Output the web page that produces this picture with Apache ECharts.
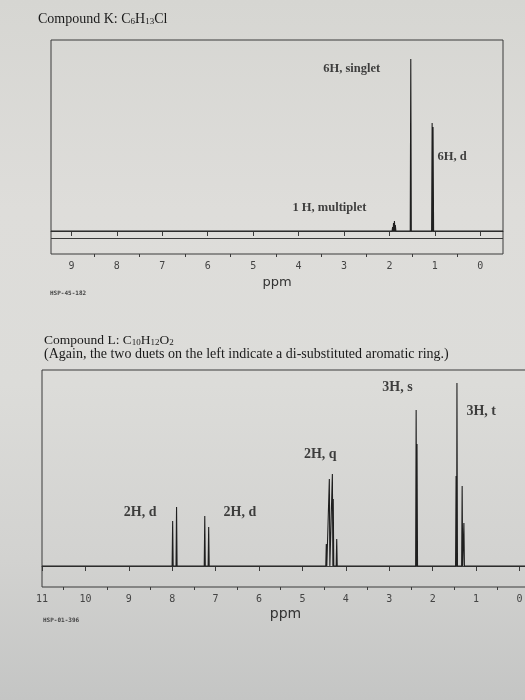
<!DOCTYPE html>
<html>
<head>
<meta charset="utf-8">
<script src="https://cdn.jsdelivr.net/npm/echarts@6/dist/echarts.min.js"></script>
<style>
  html, body { margin: 0; padding: 0; }
  #main {
    width: 525px; height: 700px;
    background: linear-gradient(180deg, #d6d6d2 0%, #dedddA 30%, #dcdcd9 55%, #d2d2d0 80%, #c4c5c4 100%);
  }
</style>
</head>
<body>
<div id="main"></div>
<script>
  // ---- Compound K (top spectrum) ----
  var kTicks = [0, 1, 2, 3, 4, 5, 6, 7, 8, 9];
  var kMinorTicks = [0.5, 1.5, 2.5, 3.5, 4.5, 5.5, 6.5, 7.5, 8.5];
  var kPeakPpm = [1.93, 1.91, 1.89, 1.87, 1.53, 1.06, 1.04];
  var kPeakHeight = [4, 8, 10, 6, 172, 108, 104];
  var kNoteText = ['6H, singlet', '6H, d', '1 H, multiplet'];
  var kNotePpm = [2.83, 0.62, 3.32];
  var kNoteHeight = [162, 74, 23];

  // ---- Compound L (bottom spectrum) ----
  var lTicks = [0, 1, 2, 3, 4, 5, 6, 7, 8, 9, 10, 11];
  var lMinorTicks = [0.5, 1.5, 2.5, 3.5, 4.5, 5.5, 6.5, 7.5, 8.5, 9.5, 10.5];
  var lPeakPpm = [7.99, 7.90, 7.25, 7.16, 4.45, 4.38, 4.31, 4.29, 4.21, 2.38, 2.36, 1.46, 1.44, 1.32, 1.28];
  var lPeakHeight = [45, 59, 50, 39, 22, 87, 92, 67, 27, 156, 122, 90, 183, 80, 43];
  var lNoteText = ['3H, s', '3H, t', '2H, q', '2H, d', '2H, d'];
  var lNotePpm = [2.81, 0.88, 4.59, 8.74, 6.44];
  var lNoteHeight = [179, 155, 112, 54, 54];

  var ink = '#1f1f1f';
  var frame = '#3a3a3a';

  // baseline with a narrow spike for every line of the spectrum
  function trace(ppm, height, lo, hi) {
    var w = 0.012;
    var idx = ppm.map(function (p, i) { return i; }).sort(function (a, b) { return ppm[b] - ppm[a]; });
    var pts = [[hi, 0]];
    idx.forEach(function (i) {
      pts.push([ppm[i] + w, 0], [ppm[i], height[i]], [ppm[i] - w, 0]);
    });
    pts.push([lo, 0]);
    return pts;
  }

  function notes(text, ppm, h) {
    return text.map(function (t, i) { return { name: t, value: [ppm[i], h[i]] }; });
  }

  function axisPair(gridIndex, min, max, major, minor) {
    var base = {
      type: 'value', gridIndex: gridIndex, min: min, max: max, inverse: true,
      position: 'bottom', splitLine: { show: false }
    };
    return [
      Object.assign({}, base, {
        name: 'ppm', nameLocation: 'middle', nameGap: gridIndex === 0 ? 22 : 20,
        nameTextStyle: { fontFamily: 'DejaVu Sans', fontSize: gridIndex === 0 ? 13 : 14, color: '#333' },
        axisLine: { lineStyle: { color: frame, width: 1 } },
        axisTick: { customValues: major, length: 5, lineStyle: { color: frame } },
        axisLabel: {
          customValues: major, margin: 7, color: '#444',
          fontFamily: 'DejaVu Sans Mono', fontSize: 10
        }
      }),
      Object.assign({}, base, {
        axisLine: { show: false },
        axisTick: { customValues: minor, length: 3, lineStyle: { color: frame } },
        axisLabel: { show: false }
      })
    ];
  }

  var noteLabel = {
    show: true, position: 'inside', formatter: '{b}', color: '#151515',
    fontFamily: 'Liberation Serif', fontWeight: 'bold'
  };

  function subRich(size) {
    return {
      n: { fontFamily: 'Liberation Serif', fontSize: size, fontWeight: 'normal', color: '#1a1a1a' },
      s: { fontFamily: 'Liberation Serif', fontSize: 9, fontWeight: 'normal', color: '#1a1a1a', verticalAlign: 'bottom' }
    };
  }
  var smallMono = { fontFamily: 'DejaVu Sans Mono', fontSize: 6, fontWeight: 'bold', color: '#444' };

  var chart = echarts.init(document.getElementById('main'));
  chart.setOption({
    backgroundColor: 'transparent',
    animation: false,
    title: [
      { left: 38, top: 12, padding: 0, text: '{n|Compound K: C}{s|6}{n|H}{s|13}{n|Cl}', textStyle: { fontWeight: 'normal', rich: subRich(14) } },
      { left: 44, top: 333, padding: 0, text: '{n|Compound L: C}{s|10}{n|H}{s|12}{n|O}{s|2}', textStyle: { fontWeight: 'normal', rich: subRich(13.5) } },
      {
        left: 44, top: 347, padding: 0, text: '(Again, the two duets on the left indicate a di-substituted aromatic ring.)',
        textStyle: { fontFamily: 'Liberation Serif', fontSize: 14, fontWeight: 'normal', color: '#1a1a1a' }
      },
      { left: 50, top: 290, padding: 0, text: 'HSP-45-182', textStyle: smallMono },
      { left: 43, top: 617, padding: 0, text: 'HSP-01-396', textStyle: smallMono }
    ],
    grid: [
      { left: 51, right: 22, top: 40, height: 214, outerBoundsMode: 'none', show: true, borderColor: frame, borderWidth: 1, backgroundColor: 'transparent' },
      { left: 42, right: -4, top: 370, height: 217, outerBoundsMode: 'none', show: true, borderColor: frame, borderWidth: 1, backgroundColor: 'transparent' }
    ],
    xAxis: axisPair(0, -0.5, 9.45, kTicks, kMinorTicks).concat(axisPair(1, -0.22, 11, lTicks, lMinorTicks)),
    yAxis: [
      { type: 'value', gridIndex: 0, min: -23, max: 191, show: false },
      { type: 'value', gridIndex: 1, min: -21, max: 196, show: false }
    ],
    series: [
      {
        type: 'line', xAxisIndex: 0, yAxisIndex: 0, showSymbol: false, silent: true,
        data: trace(kPeakPpm, kPeakHeight, -0.5, 9.45),
        lineStyle: { color: ink, width: 1.1 },
        markLine: {
          silent: true, symbol: 'none', label: { show: false },
          lineStyle: { color: frame, width: 1, type: 'solid' },
          data: [{ yAxis: -7 }]
        }
      },
      {
        type: 'line', xAxisIndex: 2, yAxisIndex: 1, showSymbol: false, silent: true,
        data: trace(lPeakPpm, lPeakHeight, -0.22, 11),
        lineStyle: { color: ink, width: 1.1 }
      },
      {
        type: 'scatter', xAxisIndex: 0, yAxisIndex: 0, symbolSize: 1, itemStyle: { color: 'transparent' },
        data: notes(kNoteText, kNotePpm, kNoteHeight),
        label: Object.assign({}, noteLabel, { fontSize: 12.5 })
      },
      {
        type: 'scatter', xAxisIndex: 2, yAxisIndex: 1, symbolSize: 1, itemStyle: { color: 'transparent' },
        data: notes(lNoteText, lNotePpm, lNoteHeight),
        label: Object.assign({}, noteLabel, { fontSize: 14 })
      }
    ]
  });
</script>
</body>
</html>
